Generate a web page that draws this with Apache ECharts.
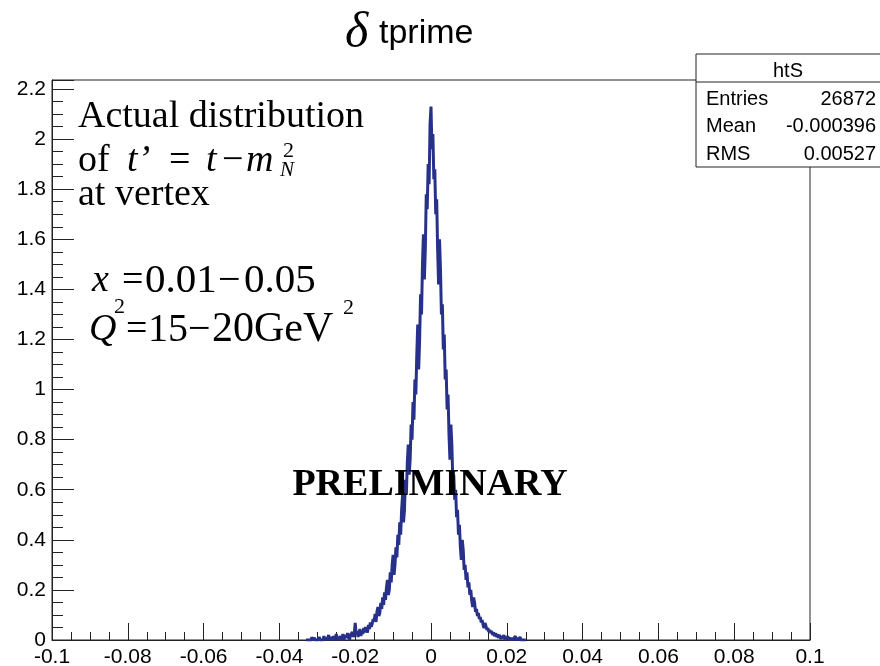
<!DOCTYPE html>
<html>
<head>
<meta charset="utf-8">
<script src="https://cdn.jsdelivr.net/npm/echarts@6/dist/echarts.min.js"></script>
<style>
  html, body { margin: 0; padding: 0; background: #fff; }
  #chart { width: 880px; height: 666px; }
</style>
</head>
<body>
<div id="chart"></div>
<script>
// histogram htS: bins of 0.00025 starting at -0.033 (contents)
const binStart = -0.033
const binWidth = 0.00025
const binContents = [
  0, 0, 0, 0,                 0, 0, 0.012, 0,
  0, 0.008, 0, 0,             0, 0, 0.012, 0,
  0, 0, 0, 0.016,             0, 0.008, 0, 0,
  0.02, 0, 0, 0.012,          0, 0.016, 0, 0.008,
  0.024, 0, 0.012, 0,         0.016, 0.008, 0, 0.024,
  0, 0.012, 0.02, 0.008,      0.028, 0.012, 0, 0.02,
  0.016, 0.032, 0.012, 0.024, 0.068, 0.02, 0.036, 0.012,
  0.028, 0.044, 0.016, 0.036, 0.024, 0.048, 0.03, 0.052,
  0.04, 0.03, 0.06, 0.044,    0.07, 0.052, 0.066, 0.084,
  0.076, 0.104, 0.072, 0.114, 0.132, 0.096, 0.108, 0.148,
  0.124, 0.17, 0.14, 0.19,    0.16, 0.21, 0.24, 0.18,
  0.2, 0.27, 0.23, 0.3,       0.34, 0.26, 0.3, 0.37,
  0.33, 0.42, 0.38, 0.47,     0.42, 0.52, 0.58, 0.47,
  0.52, 0.64, 0.58, 0.71,     0.78, 0.66, 0.72, 0.86,
  0.8, 0.95, 0.88, 1.04,      0.98, 1.14, 1.26, 1.08,
  1.2, 1.38, 1.3, 1.5,        1.62, 1.44, 1.56, 1.78,
  1.72, 1.9, 1.82, 2.06,      2.13, 1.96, 2.02, 1.84,
  1.88, 1.7, 1.76, 1.56,      1.42, 1.6, 1.48, 1.3,
  1.34, 1.16, 1.22, 1.04,     1.08, 0.92, 0.98, 0.82,
  0.72, 0.86, 0.78, 0.64,     0.66, 0.56, 0.6, 0.49,
  0.52, 0.42, 0.46, 0.37,     0.32, 0.4, 0.36, 0.28,
  0.3, 0.24, 0.27, 0.21,      0.23, 0.18, 0.2, 0.156,
  0.132, 0.17, 0.15, 0.112,   0.124, 0.096, 0.108, 0.084,
  0.092, 0.07, 0.08, 0.06,    0.048, 0.068, 0.056, 0.04,
  0.048, 0.032, 0.04, 0.028,  0.036, 0.02, 0.03, 0.016,
  0.028, 0.012, 0.024, 0.008, 0.02, 0.012, 0.004, 0.016,
  0.008, 0.02, 0, 0.012,      0.004, 0.016, 0, 0.008,
  0.012, 0, 0.008, 0,         0, 0.016, 0, 0.008,
  0, 0, 0.012, 0,             0, 0, 0, 0
]

const xTicks = { min: -0.1, max: 0.1, step: 0.02 }
const yTicks = { min: 0, max: 2.236, step: 0.2 }

const statTitle = 'htS'
const statRows = [
  ['Entries', '26872'],
  ['Mean', '-0.000396'],
  ['RMS', '0.00527']
]

const histData = binContents.map((v, i) => [binStart + i * binWidth, v])
// close the last bin
histData.push([binStart + binContents.length * binWidth, 0])

const chart = echarts.init(document.getElementById('chart'))

const fmt = (v) => String(+v.toFixed(4))
const serif = '"Liberation Serif", "Times New Roman", serif'
const sans = '"Liberation Sans", Arial, sans-serif'

// text helper, y is the middle of the line
const txt = (text, x, y, font, extra) => ({
  type: 'text', x: x, y: y, z: 100,
  style: Object.assign({ text: text, font: font, fill: '#000', verticalAlign: 'middle' }, extra || {})
})

const option = {
  animation: false,
  backgroundColor: '#fff',
  grid: {
    left: 52, right: 70, top: 80, bottom: 26,
    containLabel: false, outerBoundsMode: 'none',
    show: true, borderColor: '#222', borderWidth: 1
  },
  xAxis: {
    type: 'value',
    min: xTicks.min, max: xTicks.max, interval: xTicks.step,
    axisLine: { show: true, onZero: false, lineStyle: { color: '#222', width: 1 } },
    axisTick: { show: true, inside: true, length: 17, lineStyle: { color: '#222' } },
    minorTick: { show: true, splitNumber: 4, length: 8, lineStyle: { color: '#222' } },
    splitLine: { show: false },
    axisLabel: { formatter: fmt, color: '#000', fontFamily: sans, fontSize: 21, margin: 7 }
  },
  yAxis: {
    type: 'value',
    min: yTicks.min, max: yTicks.max, interval: yTicks.step,
    axisLine: { show: true, onZero: false, lineStyle: { color: '#222', width: 1 } },
    axisTick: { show: true, inside: true, length: 22, lineStyle: { color: '#222' } },
    minorTick: { show: true, splitNumber: 4, length: 11, lineStyle: { color: '#222' } },
    splitLine: { show: false },
    axisLabel: { formatter: fmt, showMaxLabel: false, color: '#000', fontFamily: sans, fontSize: 21, margin: 6 }
  },
  series: [{
    type: 'line',
    step: 'end',
    data: histData,
    symbol: 'none',
    lineStyle: { color: '#27318a', width: 3 },
    z: 3
  }],
  graphic: [
    // title
    txt('δ', 345, 34, `italic 50px ${serif}`),
    txt('tprime', 379, 34, `34px ${sans}`),
    // annotations
    txt('Actual distribution', 78, 117, `38px ${serif}`),
    txt('of', 78, 161, `38px ${serif}`),
    txt('t’', 127, 161, `italic 38px ${serif}`),
    txt('=', 169, 161, `38px ${serif}`),
    txt('t', 206, 161, `italic 38px ${serif}`),
    txt('−', 222, 161, `38px ${serif}`),
    txt('m', 246, 161, `italic 38px ${serif}`),
    txt('2', 283, 151, `22px ${serif}`),
    txt('N', 280, 170, `italic 21px ${serif}`),
    txt('at vertex', 78, 195, `38px ${serif}`),
    txt('x', 92, 281, `italic 38px ${serif}`),
    txt('=', 122, 281, `38px ${serif}`),
    txt('0.01', 145, 281, `41px ${serif}`),
    txt('−', 218, 281, `40px ${serif}`),
    txt('0.05', 244, 281, `41px ${serif}`),
    txt('Q', 89, 330, `italic 38px ${serif}`),
    txt('2', 114, 307, `22px ${serif}`),
    txt('=', 126, 330, `38px ${serif}`),
    txt('15', 148, 330, `40px ${serif}`),
    txt('−', 188, 330, `40px ${serif}`),
    txt('20GeV', 212, 330, `42px ${serif}`),
    txt('2', 343, 308, `22px ${serif}`),
    txt('PRELIMINARY', 430, 485, `bold 38px ${serif}`, { align: 'center' }),
    // stat box
    {
      type: 'group', x: 696, y: 54, z: 100,
      children: [
        { type: 'rect', shape: { x: 0, y: 0, width: 190, height: 113 }, style: { fill: '#fff', stroke: '#222', lineWidth: 1 } },
        { type: 'line', shape: { x1: 0, y1: 28, x2: 190, y2: 28 }, style: { stroke: '#222', lineWidth: 1 } },
        { type: 'text', x: 92, y: 17, style: { text: statTitle, font: `20px ${sans}`, fill: '#000', align: 'center', verticalAlign: 'middle' } },
        ...statRows.flatMap((r, i) => [
          { type: 'text', x: 10, y: 45 + i * 27.5, style: { text: r[0], font: `20px ${sans}`, fill: '#000', verticalAlign: 'middle' } },
          { type: 'text', x: 180, y: 45 + i * 27.5, style: { text: r[1], font: `20px ${sans}`, fill: '#000', align: 'right', verticalAlign: 'middle' } }
        ])
      ]
    }
  ]
}

chart.setOption(option)
</script>
</body>
</html>
